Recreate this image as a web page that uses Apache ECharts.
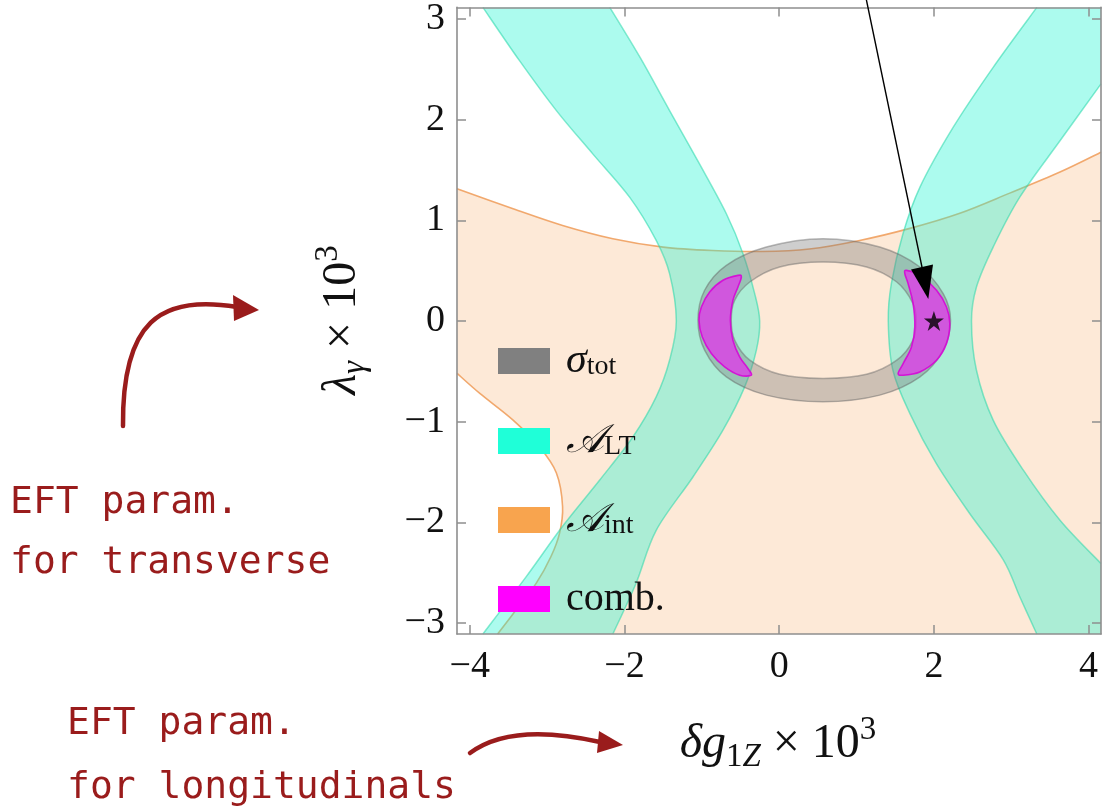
<!DOCTYPE html>
<html>
<head>
<meta charset="utf-8">
<script src="https://cdn.jsdelivr.net/npm/echarts@6/dist/echarts.min.js"></script>
<style>
html,body{margin:0;padding:0;background:#fff;}
#chart{width:1102px;height:811px;}
</style>
</head>
<body>
<div id="chart"></div>
<script>
// ---------- data ----------
const xTicks = [-4, -2, 0, 2, 4];
const yTicks = [-3, -2, -1, 0, 1, 2, 3];
const xRange = [-4.165, 4.16];
const yRange = [-3.11, 3.115];

// A_int : upper boundary (left -> right) and lower-left boundary (top -> bottom)
const aIntTop = [[-4.165,1.313],[-3.44,1.115],[-2.80,0.949],[-2.15,0.817],[-1.50,0.734],[-0.86,0.70],[-0.22,0.69],[0.39,0.715],[1.04,0.80],[1.69,0.92],[2.335,1.07],[2.98,1.27],[3.63,1.48],[4.16,1.677]];
const aIntLeft = [[-4.165,-0.52],[-3.87,-0.72],[-3.44,-0.985],[-3.10,-1.25],[-2.88,-1.51],[-2.80,-1.845],[-2.84,-2.11],[-2.95,-2.34],[-3.14,-2.605],[-3.40,-2.87],[-3.64,-3.11]];

// A_LT : left band (outer / inner edges, top -> bottom), right band
const ltLeftOuter = [[-3.83,3.115],[-3.357,2.586],[-2.88,2.09],[-2.41,1.66],[-1.934,1.23],[-1.59,0.80],[-1.417,0.47],[-1.33,0.0],[-1.417,-0.39],[-1.59,-0.754],[-1.89,-1.15],[-2.32,-1.58],[-2.80,-2.04],[-3.27,-2.54],[-3.83,-3.11]];
const ltLeftInner = [[-2.19,3.115],[-1.80,2.62],[-1.417,2.09],[-1.03,1.56],[-0.683,1.065],[-0.468,0.669],[-0.317,0.272],[-0.252,0.0],[-0.295,-0.29],[-0.446,-0.655],[-0.727,-1.085],[-1.115,-1.55],[-1.59,-2.08],[-1.85,-2.605],[-2.15,-3.11]];
const ltRightInner = [[3.33,3.115],[2.766,2.52],[2.25,1.925],[1.82,1.33],[1.60,0.867],[1.45,0.371],[1.41,0.0],[1.47,-0.49],[1.69,-0.92],[2.03,-1.415],[2.46,-1.91],[2.895,-2.37],[3.11,-2.74],[3.33,-3.11]];
const ltRightOuter = [[4.16,2.355],[3.63,1.79],[3.11,1.23],[2.766,0.734],[2.55,0.337],[2.486,0.0],[2.55,-0.49],[2.766,-0.985],[3.154,-1.48],[3.63,-1.98],[4.16,-2.41]];

// sigma_tot ring : outer and inner boundary
const sigmaOuter = [[0.567,0.817],[1.30,0.734],[1.82,0.536],[2.12,0.272],[2.215,0.007],[2.12,-0.29],[1.82,-0.556],[1.30,-0.737],[0.567,-0.803],[-0.166,-0.737],[-0.683,-0.556],[-0.964,-0.29],[-1.05,0.007],[-0.964,0.305],[-0.683,0.553],[-0.166,0.734]];
const sigmaInner = [[0.567,0.585],[1.13,0.536],[1.52,0.387],[1.73,0.173],[1.766,0.007],[1.73,-0.19],[1.52,-0.39],[1.13,-0.53],[0.567,-0.571],[0.006,-0.53],[-0.38,-0.39],[-0.576,-0.19],[-0.62,0.007],[-0.576,0.205],[-0.38,0.387],[0.006,0.536]];

// combined regions (two crescents)
const combLeft = [[-0.533,0.453],[-0.727,0.404],[-0.899,0.288],[-1.006,0.139],[-1.037,0.007],[-0.994,-0.159],[-0.877,-0.323],[-0.705,-0.456],[-0.511,-0.539],[-0.36,-0.539],[-0.404,-0.472],[-0.511,-0.357],[-0.598,-0.191],[-0.631,0.007],[-0.598,0.205],[-0.533,0.337],[-0.489,0.437]];
const combRight = [[1.646,0.503],[1.818,0.453],[2.034,0.305],[2.163,0.139],[2.206,-0.026],[2.163,-0.224],[2.034,-0.39],[1.818,-0.506],[1.602,-0.539],[1.537,-0.522],[1.602,-0.423],[1.71,-0.258],[1.753,-0.06],[1.731,0.173],[1.666,0.371],[1.624,0.47]];

const bestFit = [[2.0, 0.0]];

const legendNames = ['sigma_tot', 'A_LT', 'A_int', 'comb.'];
const legendLabels = ['{it|σ}{sub|tot}', '{sc|𝒜}{sub|LT}', '{sc|𝒜}{sub|int}', '{n|comb.}'];

// ---------- helpers (rendering only) ----------
function openCurve(P, move) {
  let s = (move ? 'M' : 'L') + P[0][0] + ' ' + P[0][1];
  for (let i = 0; i < P.length - 1; i++) {
    const p0 = P[Math.max(i - 1, 0)], p1 = P[i], p2 = P[i + 1], p3 = P[Math.min(i + 2, P.length - 1)];
    const c1x = p1[0] + (p2[0] - p0[0]) / 6, c1y = p1[1] + (p2[1] - p0[1]) / 6;
    const c2x = p2[0] - (p3[0] - p1[0]) / 6, c2y = p2[1] - (p3[1] - p1[1]) / 6;
    s += ' C' + c1x + ' ' + c1y + ' ' + c2x + ' ' + c2y + ' ' + p2[0] + ' ' + p2[1];
  }
  return s;
}
function closedCurve(P) {
  const n = P.length;
  let s = 'M' + P[0][0] + ' ' + P[0][1];
  for (let i = 0; i < n; i++) {
    const p0 = P[(i - 1 + n) % n], p1 = P[i], p2 = P[(i + 1) % n], p3 = P[(i + 2) % n];
    const c1x = p1[0] + (p2[0] - p0[0]) / 6, c1y = p1[1] + (p2[1] - p0[1]) / 6;
    const c2x = p2[0] - (p3[0] - p1[0]) / 6, c2y = p2[1] - (p3[1] - p1[1]) / 6;
    s += ' C' + c1x + ' ' + c1y + ' ' + c2x + ' ' + c2y + ' ' + p2[0] + ' ' + p2[1];
  }
  return s + ' Z';
}
const px = (api, arr) => arr.map(p => api.coord(p));
const rev = a => a.slice().reverse();
const pt = (p) => ' L' + p[0] + ' ' + p[1];

const COL = {
  orangeFill: 'rgba(248,160,80,0.23)', orangeLine: 'rgba(240,160,95,0.9)', orangeKey: '#f8a44e',
  tealFill: 'rgba(30,245,210,0.37)', tealLine: 'rgba(40,215,170,0.55)', tealKey: '#1fffd8',
  grayFill: 'rgba(120,120,120,0.36)', grayLine: 'rgba(100,100,100,0.45)', grayKey: '#808080',
  magFill: 'rgba(255,0,255,0.55)', magLine: 'rgba(215,0,215,0.85)', magKey: '#ff00ff'
};

function renderAInt(params, api) {
  const T = px(api, aIntTop), L = px(api, aIntLeft);
  const br = api.coord([xRange[1], yRange[0]]);
  const d = openCurve(T, true) + pt(br) + openCurve(rev(L), false) + ' Z';
  return { type: 'group', children: [
    { type: 'path', shape: { pathData: d }, style: { fill: COL.orangeFill, stroke: null } },
    { type: 'path', shape: { pathData: openCurve(T, true) }, style: { fill: null, stroke: COL.orangeLine, lineWidth: 1.6 } },
    { type: 'path', shape: { pathData: openCurve(L, true) }, style: { fill: null, stroke: COL.orangeLine, lineWidth: 1.6 } }
  ]};
}
function renderALT(params, api) {
  const LO = px(api, ltLeftOuter), LI = px(api, ltLeftInner);
  const RI = px(api, ltRightInner), RO = px(api, ltRightOuter);
  const br = api.coord([xRange[1], yRange[0]]), tr = api.coord([xRange[1], yRange[1]]);
  const dL = openCurve(LO, true) + openCurve(rev(LI), false) + ' Z';
  const dR = openCurve(RI, true) + pt(br) + openCurve(rev(RO), false) + pt(tr) + ' Z';
  const ls = { fill: null, stroke: COL.tealLine, lineWidth: 1.5 };
  return { type: 'group', children: [
    { type: 'path', shape: { pathData: dL }, style: { fill: COL.tealFill } },
    { type: 'path', shape: { pathData: dR }, style: { fill: COL.tealFill } },
    { type: 'path', shape: { pathData: openCurve(LO, true) }, style: ls },
    { type: 'path', shape: { pathData: openCurve(LI, true) }, style: ls },
    { type: 'path', shape: { pathData: openCurve(RI, true) }, style: ls },
    { type: 'path', shape: { pathData: openCurve(RO, true) }, style: ls }
  ]};
}
function renderSigma(params, api) {
  const O = px(api, sigmaOuter), I = px(api, sigmaInner);
  const d = closedCurve(O) + ' ' + closedCurve(rev(I));
  return { type: 'path', shape: { pathData: d }, style: { fill: COL.grayFill, stroke: COL.grayLine, lineWidth: 1.5 } };
}
function renderComb(params, api) {
  return { type: 'group', children: [
    { type: 'path', shape: { pathData: closedCurve(px(api, combLeft)) }, style: { fill: COL.magFill, stroke: COL.magLine, lineWidth: 1.6 } },
    { type: 'path', shape: { pathData: closedCurve(px(api, combRight)) }, style: { fill: COL.magFill, stroke: COL.magLine, lineWidth: 1.6 } }
  ]};
}

const SERIF = '"Liberation Serif", "DejaVu Serif", serif';
const HAND = '"DejaVu Sans Mono", monospace';
const RED = '#9a1c1c';
const AXC = '#8e8e8e';
const fmt = v => (v < 0 ? '\u2212' + (-v) : String(v));

const axisCommon = {
  type: 'value', z: 5,
  axisLine: { show: true, onZero: false, lineStyle: { color: AXC, width: 1.6 } },
  splitLine: { show: false }
};

const nameRich = {
  it: { fontFamily: SERIF, fontStyle: 'italic', fontSize: 48, lineHeight: 60, fill: '#111' },
  n: { fontFamily: SERIF, fontSize: 48, lineHeight: 60, fill: '#111' },
  sub: { fontFamily: SERIF, fontSize: 33, lineHeight: 41, verticalAlign: 'bottom', fill: '#111' },
  subi: { fontFamily: SERIF, fontStyle: 'italic', fontSize: 33, lineHeight: 41, verticalAlign: 'bottom', fill: '#111' },
  sup: { fontFamily: SERIF, fontSize: 33, lineHeight: 30, verticalAlign: 'top', fill: '#111' }
};
const handStyle = { fontFamily: HAND, fontSize: 38, fontWeight: 'normal', fill: RED, align: 'left', verticalAlign: 'middle', textAlign: 'left', textVerticalAlign: 'middle' };

const chart = echarts.init(document.getElementById('chart'), null, { renderer: 'canvas' });
chart.setOption({
  animation: false,
  backgroundColor: '#fff',
  grid: { left: 457, right: 1, top: 7, bottom: 177, containLabel: false },
  xAxis: [
    Object.assign({}, axisCommon, { min: xRange[0], max: xRange[1], position: 'bottom',
      axisTick: { show: true, inside: true, length: 9, customValues: xTicks, lineStyle: { color: AXC, width: 1.5 } },
      axisLabel: { customValues: xTicks, formatter: fmt, fontFamily: SERIF, fontSize: 38, color: '#111', margin: 14 } }),
    Object.assign({}, axisCommon, { min: xRange[0], max: xRange[1], position: 'top',
      axisTick: { show: true, inside: true, length: 9, customValues: xTicks, lineStyle: { color: AXC, width: 1.5 } },
      axisLabel: { show: false } })
  ],
  yAxis: [
    Object.assign({}, axisCommon, { min: yRange[0], max: yRange[1], position: 'left',
      axisTick: { show: true, inside: true, length: 9, customValues: yTicks, lineStyle: { color: AXC, width: 1.5 } },
      axisLabel: { customValues: yTicks, formatter: fmt, fontFamily: SERIF, fontSize: 38, color: '#111', margin: 12 } }),
    Object.assign({}, axisCommon, { min: yRange[0], max: yRange[1], position: 'right',
      axisTick: { show: true, inside: true, length: 9, customValues: yTicks, lineStyle: { color: AXC, width: 1.5 } },
      axisLabel: { show: false } })
  ],
  legend: {
    orient: 'vertical', left: 498, top: 340, padding: 0,
    itemWidth: 52, itemHeight: 26, itemGap: 39, selectedMode: false,
    icon: 'rect',
    data: [
      { name: legendNames[0], itemStyle: { color: COL.grayKey } },
      { name: legendNames[1], itemStyle: { color: COL.tealKey } },
      { name: legendNames[2], itemStyle: { color: COL.orangeKey } },
      { name: legendNames[3], itemStyle: { color: COL.magKey } }
    ],
    formatter: name => legendLabels[legendNames.indexOf(name)],
    textStyle: {
      padding: [0, 0, 0, 11],
      rich: {
        it: { fontFamily: SERIF, fontStyle: 'italic', fontSize: 42, color: '#111', lineHeight: 40 },
        sc: { fontFamily: SERIF, fontStyle: 'italic', fontSize: 40, color: '#111', lineHeight: 40 },
        sub: { fontFamily: SERIF, fontSize: 28, color: '#111', lineHeight: 28, verticalAlign: 'bottom' },
        n: { fontFamily: SERIF, fontSize: 40, color: '#111', lineHeight: 40 }
      }
    }
  },
  series: [
    { name: legendNames[2], type: 'custom', coordinateSystem: 'cartesian2d', xAxisIndex: 0, yAxisIndex: 0,
      data: [[0, 0]], renderItem: renderAInt, silent: true, itemStyle: { color: COL.orangeKey } },
    { name: legendNames[1], type: 'custom', coordinateSystem: 'cartesian2d', xAxisIndex: 0, yAxisIndex: 0,
      data: [[0, 0]], renderItem: renderALT, silent: true, itemStyle: { color: COL.tealKey } },
    { name: legendNames[0], type: 'custom', coordinateSystem: 'cartesian2d', xAxisIndex: 0, yAxisIndex: 0,
      data: [[0, 0]], renderItem: renderSigma, silent: true, itemStyle: { color: COL.grayKey } },
    { name: legendNames[3], type: 'custom', coordinateSystem: 'cartesian2d', xAxisIndex: 0, yAxisIndex: 0,
      data: [[0, 0]], renderItem: renderComb, silent: true, itemStyle: { color: COL.magKey } },
    { name: 'best fit', type: 'scatter', xAxisIndex: 0, yAxisIndex: 0, data: bestFit, silent: true,
      symbol: 'path://M50,0 L61.8,36 L99,36 L69,58 L80.5,95 L50,72 L19.5,95 L31,58 L1,36 L38.2,36 Z',
      symbolSize: 20, itemStyle: { color: '#000' }, z: 6 }
  ],
  graphic: [
    // axis names
    { type: 'text', x: 778, y: 744, z: 10,
      style: { text: '{it|δg}{sub|1}{subi|Z}{n| × 10}{sup|3}', align: 'center', verticalAlign: 'middle', textAlign: 'center', textVerticalAlign: 'middle', rich: nameRich } },
    { type: 'text', x: 342, y: 320, rotation: Math.PI / 2, z: 10,
      style: { text: '{it|λ}{subi|γ}{n| × 10}{sup|3}', align: 'center', verticalAlign: 'middle', textAlign: 'center', textVerticalAlign: 'middle', rich: nameRich } },
    // handwritten notes
    { type: 'text', x: 10, y: 503, style: Object.assign({ text: 'EFT param.' }, handStyle) },
    { type: 'text', x: 10, y: 563, style: Object.assign({ text: 'for transverse' }, handStyle) },
    { type: 'text', x: 67, y: 724, style: Object.assign({ text: 'EFT param.' }, handStyle) },
    { type: 'text', x: 67, y: 788, style: Object.assign({ text: 'for longitudinals' }, handStyle) },
    // red curved arrows
    { type: 'bezierCurve', shape: { x1: 123, y1: 426, cpx1: 122, cpy1: 322, cpx2: 160, cpy2: 294, x2: 237, y2: 307 },
      style: { stroke: RED, lineWidth: 4.5, fill: null, lineCap: 'round' } },
    { type: 'polygon', shape: { points: [[259, 310], [233, 295], [234, 321]] }, style: { fill: RED } },
    { type: 'bezierCurve', shape: { x1: 470, y1: 753, cpx1: 505, cpy1: 727, cpx2: 560, cpy2: 733, x2: 600, y2: 742 },
      style: { stroke: RED, lineWidth: 4.5, fill: null, lineCap: 'round' } },
    { type: 'polygon', shape: { points: [[623, 745], [599, 731], [597, 753]] }, style: { fill: RED } },
    // black pointer arrow
    { type: 'line', z: 20, shape: { x1: 866, y1: -2, x2: 923, y2: 272 }, style: { stroke: '#000', lineWidth: 1.4 } },
    { type: 'polygon', z: 20, shape: { points: [[928.3, 299], [911, 269.5], [933, 264.5]] }, style: { fill: '#000' } }
  ]
});
</script>
</body>
</html>
